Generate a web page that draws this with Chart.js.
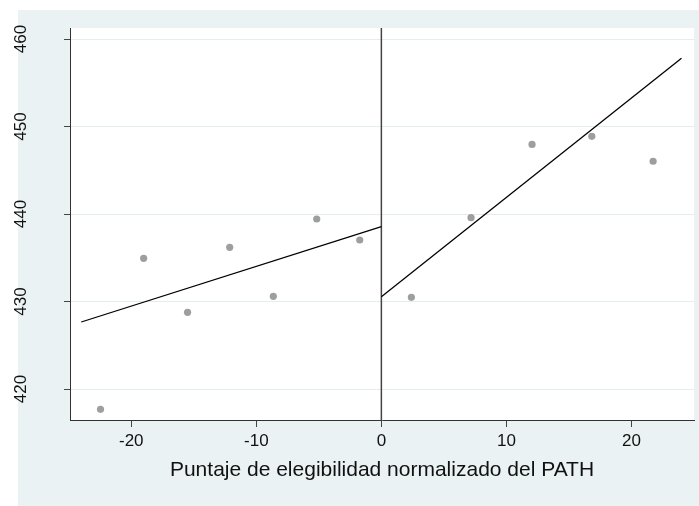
<!DOCTYPE html>
<html>
<head>
<meta charset="utf-8">
<script src="https://cdn.jsdelivr.net/npm/chart.js@4.4.0/dist/chart.umd.min.js"></script>
<style>
  html, body { margin: 0; padding: 0; background: #fff; }
</style>
</head>
<body>
<canvas id="graph" width="699" height="506"></canvas>
<script>
// Promedios por intervalo, a cada lado del corte
const puntosIzqX = [-22.46, -19.01, -15.5, -12.13, -8.64, -5.17, -1.73];
const puntosIzqY = [417.68, 434.94, 428.77, 436.19, 430.6, 439.43, 437.03];
const puntosDerX = [2.4, 7.17, 12.05, 16.83, 21.73];
const puntosDerY = [430.48, 439.58, 447.96, 448.88, 446.03];

// Rectas ajustadas (extremos)
const ajusteIzqX = [-24, 0];
const ajusteIzqY = [427.66, 438.55];
const ajusteDerX = [0, 24];
const ajusteDerY = [430.55, 457.8];

const xTicks = [-20, -10, 0, 10, 20];
const yTicks = [420, 430, 440, 450, 460];
const xMin = -24.9, xMax = 25.0;
const yMin = 416.46, yMax = 461.26;
const corte = 0;

const FUENTE = "'Liberation Sans', Arial, sans-serif";

const toXY = (xs, ys) => xs.map((x, i) => ({ x: x, y: ys[i] }));

// Fondo estilo Stata + etiquetas verticales del eje y
const fondoPlugin = {
    id: 'fondo',
    beforeDraw(chart) {
        const ctx = chart.ctx;
        const a = chart.chartArea;
        ctx.save();
        ctx.fillStyle = '#ffffff';
        ctx.fillRect(0, 0, chart.width, chart.height);
        ctx.fillStyle = '#EAF2F3';
        ctx.fillRect(18, 10, chart.width - 18, chart.height - 10);
        ctx.fillStyle = '#ffffff';
        ctx.fillRect(a.left, a.top, a.right - a.left, a.bottom - a.top);
        ctx.restore();
    },
    afterDraw(chart) {
        const ctx = chart.ctx;
        const y = chart.scales.y;
        ctx.save();
        ctx.fillStyle = '#111';
        ctx.font = '17px ' + FUENTE;
        ctx.textAlign = 'center';
        ctx.textBaseline = 'middle';
        yTicks.forEach(v => {
            ctx.save();
            ctx.translate(21, y.getPixelForValue(v));
            ctx.rotate(-Math.PI / 2);
            ctx.fillText(String(v), 0, 0);
            ctx.restore();
        });
        ctx.restore();
    }
};

const ctx = document.getElementById('graph').getContext('2d');
new Chart(ctx, {
    type: 'scatter',
    data: {
        datasets: [
            {
                data: toXY(puntosIzqX, puntosIzqY),
                backgroundColor: '#9e9e9e',
                borderWidth: 0,
                pointRadius: 3.6
            },
            {
                data: toXY(puntosDerX, puntosDerY),
                backgroundColor: '#9e9e9e',
                borderWidth: 0,
                pointRadius: 3.6
            },
            {
                type: 'line',
                data: toXY(ajusteIzqX, ajusteIzqY),
                borderColor: '#000',
                borderWidth: 1.3,
                pointRadius: 0,
                fill: false
            },
            {
                type: 'line',
                data: toXY(ajusteDerX, ajusteDerY),
                borderColor: '#000',
                borderWidth: 1.3,
                pointRadius: 0,
                fill: false
            },
            {
                type: 'line',
                data: [{ x: corte, y: yMin }, { x: corte, y: yMax }],
                borderColor: '#444',
                borderWidth: 1.5,
                pointRadius: 0,
                fill: false
            }
        ]
    },
    options: {
        responsive: false,
        animation: false,
        events: [],
        layout: { padding: { left: 0, top: 28, right: 5, bottom: 0 } },
        plugins: {
            legend: { display: false },
            tooltip: { enabled: false }
        },
        scales: {
            x: {
                type: 'linear',
                min: xMin,
                max: xMax,
                afterBuildTicks: s => { s.ticks = xTicks.map(v => ({ value: v })); },
                afterFit: s => { s.height = 86; },
                grid: { drawOnChartArea: false, drawTicks: true, tickLength: 7, tickColor: '#444' },
                border: { display: true, color: '#333', width: 1 },
                ticks: { color: '#111', font: { family: FUENTE, size: 17 }, padding: 4, maxRotation: 0 },
                title: {
                    display: true,
                    text: 'Puntaje de elegibilidad normalizado del PATH',
                    color: '#111',
                    font: { family: FUENTE, size: 21 },
                    padding: { top: 0, bottom: 23 }
                }
            },
            y: {
                type: 'linear',
                min: yMin,
                max: yMax,
                afterBuildTicks: s => { s.ticks = yTicks.map(v => ({ value: v })); },
                afterFit: s => { s.width = 70; },
                grid: { color: '#E3EDEF', lineWidth: 1, drawTicks: true, tickLength: 6, tickColor: '#444' },
                border: { display: true, color: '#333', width: 1 },
                ticks: { display: false }
            }
        }
    },
    plugins: [fondoPlugin]
});
</script>
</body>
</html>
